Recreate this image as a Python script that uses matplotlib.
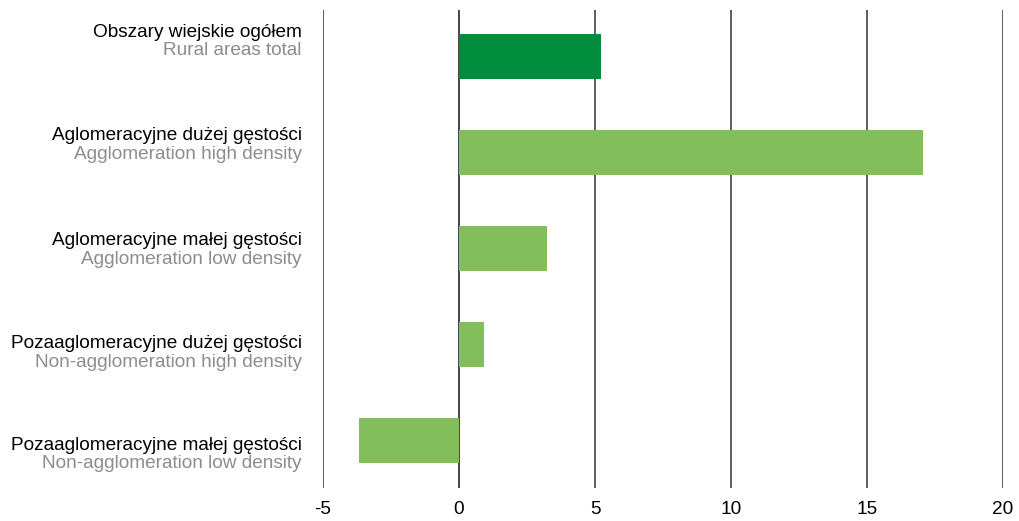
import matplotlib.pyplot as plt
from matplotlib import transforms

plt.rcParams['font.family'] = ['Liberation Sans', 'DejaVu Sans']

labels_pl = ['Obszary wiejskie ogółem',
             'Aglomeracyjne dużej gęstości',
             'Aglomeracyjne małej gęstości',
             'Pozaaglomeracyjne dużej gęstości',
             'Pozaaglomeracyjne małej gęstości']
labels_en = ['Rural areas total',
             'Agglomeration high density',
             'Agglomeration low density',
             'Non-agglomeration high density',
             'Non-agglomeration low density']
values = [5.21, 17.07, 3.23, 0.92, -3.67]
xticks = [-5, 0, 5, 10, 15, 20]

dark_green = '#008C3C'
light_green = '#82BE5A'
colors = [dark_green] + [light_green] * 4

fig = plt.figure(figsize=(10.2, 5.21), dpi=100)
ax = fig.add_axes([0.3167, 0.0633, 0.6666, 0.9177])

# vertical grid lines
for t in xticks:
    ax.axvline(t, color='#111111' if t == 0 else '#333333', lw=1.1, zorder=1)

pos = list(range(len(values)))
ax.barh(pos, values, height=0.47, color=colors, zorder=2)

ax.set_xlim(-5, 20)
ax.set_ylim(4.5, -0.49)
ax.set_xticks(xticks)
ax.set_xticklabels([str(t) for t in xticks], fontsize=13.7)
ax.tick_params(axis='x', length=0, pad=9)
ax.set_yticks([])
for s in ax.spines.values():
    s.set_visible(False)

# two-line category labels (label block slightly offset from bar centres)
label_y = [-0.16, 0.92, 2.02, 3.09, 4.15]
trans = transforms.blended_transform_factory(ax.transAxes, ax.transData)
for y, pl, en in zip(label_y, labels_pl, labels_en):
    ax.annotate(pl, xy=(0, y), xycoords=trans, xytext=(-15.5, 6.8),
                textcoords='offset points', ha='right', va='center',
                fontsize=13.7, color='black')
    ax.annotate(en, xy=(0, y), xycoords=trans, xytext=(-15.5, -6.8),
                textcoords='offset points', ha='right', va='center',
                fontsize=13.7, color='#8C8C8C')

fig.savefig('out.png', dpi=100)
